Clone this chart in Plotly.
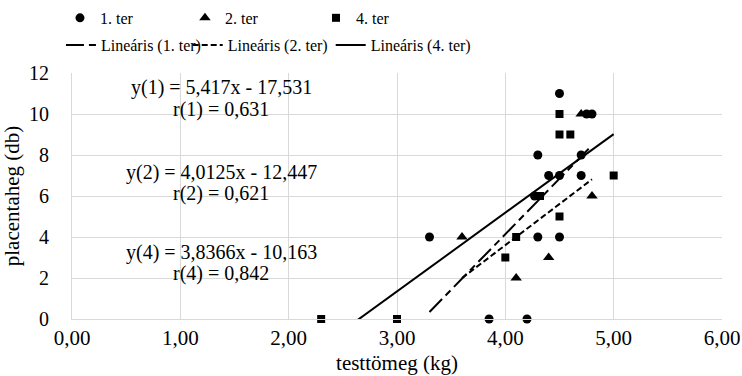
import plotly.graph_objects as go

# ---- data ----
x1 = [3.85, 4.2, 3.3, 4.3, 4.5, 4.27, 4.4, 4.5, 4.7, 4.3, 4.7, 4.5, 4.75, 4.8]
y1 = [0, 0, 4, 4, 4, 6, 7, 7, 7, 8, 8, 11, 10, 10]
x2 = [3.6, 4.1, 4.4, 4.8, 4.7]
y2 = [4, 2, 3, 6, 10]
x4 = [2.3, 3.0, 4.0, 4.1, 4.5, 4.32, 5.0, 4.5, 4.6, 4.5]
y4 = [0, 0, 3, 4, 5, 6, 7, 9, 9, 10]

names = ["1. ter", "2. ter", "4. ter"]
slopes = [5.417, 4.0125, 3.8366]
intercepts = [-17.531, -12.447, -10.163]
eq_labels = ["y(1) = 5,417x - 17,531", "y(2) = 4,0125x - 12,447", "y(4) = 3,8366x - 10,163"]
r_labels = ["r(1) = 0,631", "r(2) = 0,621", "r(4) = 0,842"]

x_ticks = [0, 1, 2, 3, 4, 5, 6]
x_ticktext = ["0,00", "1,00", "2,00", "3,00", "4,00", "5,00", "6,00"]
y_ticks = [0, 2, 4, 6, 8, 10, 12]

FONT = "Liberation Serif, DejaVu Serif, serif"
series = [(x1, y1, "circle", 9), (x2, y2, "triangle-up", 10), (x4, y4, "square", 8)]
dashes = ["18px,5px,7px,5px", "6px,3px", "solid"]

# legend slots (paper coords)
marker_leg_x = [-0.0185, 0.1738, 0.3754]
line_leg_x = [-0.017, 0.178, 0.398]
ROW1_Y, ROW2_Y = 1.293, 1.183

fig = go.Figure()
for i, ((xs, ys, sym, sz), nm) in enumerate(zip(series, names)):
    fig.add_trace(go.Scatter(
        x=xs, y=ys, mode="markers", name=nm, cliponaxis=False,
        marker=dict(symbol=sym, size=sz, color="black"),
        legend="legend%d" % (i + 2)))

for i, ((xs, ys, sym, sz), nm, m, b, d) in enumerate(zip(series, names, slopes, intercepts, dashes)):
    lx = [min(xs), max(xs)]
    ly = [m * v + b for v in lx]
    fig.add_trace(go.Scatter(
        x=lx, y=ly, mode="lines", name="Lineáris (" + nm + ")",
        line=dict(color="black", width=2, dash=d), legend="legend%d" % (i + 5)))

ann_y = [(11.3, 10.2), (7.15, 6.1), (3.25, 2.2)]
for eq, rl, (ye, yr) in zip(eq_labels, r_labels, ann_y):
    fig.add_annotation(x=1.376, y=ye, xref="x", yref="y", text=eq, showarrow=False,
                       font=dict(family=FONT, size=20, color="black"))
    fig.add_annotation(x=1.376, y=yr, xref="x", yref="y", text=rl, showarrow=False,
                       font=dict(family=FONT, size=20, color="black"))

legends = {}
for i, lxp in enumerate(marker_leg_x):
    legends["legend%d" % (i + 2)] = dict(orientation="h", x=lxp, y=ROW1_Y, xanchor="left",
                                         yanchor="top", font=dict(family=FONT, size=16),
                                         bgcolor="rgba(0,0,0,0)", itemwidth=30)
for i, lxp in enumerate(line_leg_x):
    legends["legend%d" % (i + 5)] = dict(orientation="h", x=lxp, y=ROW2_Y, xanchor="left",
                                         yanchor="top", font=dict(family=FONT, size=16),
                                         bgcolor="rgba(0,0,0,0)", itemwidth=30)

fig.update_layout(
    width=742, height=376,
    margin=dict(l=72, r=20, t=73, b=57, autoexpand=False),
    paper_bgcolor="white", plot_bgcolor="white",
    font=dict(family=FONT, size=16, color="black"),
    xaxis=dict(range=[0, 6], tickvals=x_ticks, ticktext=x_ticktext,
               showgrid=True, gridcolor="#d9d9d9", gridwidth=1,
               showline=True, linecolor="#d9d9d9", zeroline=False,
               ticks="", tickfont=dict(family=FONT, size=21), ticklabelstandoff=0,
               title=dict(text="testtömeg (kg)", font=dict(family=FONT, size=21), standoff=6)),
    yaxis=dict(range=[0, 12], tickvals=y_ticks,
               showgrid=True, gridcolor="#d9d9d9", gridwidth=1,
               showline=True, linecolor="#d9d9d9", zeroline=False,
               ticks="", tickfont=dict(family=FONT, size=20), ticklabelstandoff=18,
               title=dict(text="placentaheg (db)", font=dict(family=FONT, size=21), standoff=4)),
    **legends,
)

fig.write_html("out.html")
